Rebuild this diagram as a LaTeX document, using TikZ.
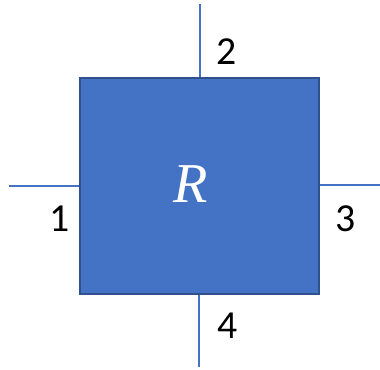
\documentclass[tikz,border=0pt]{standalone}
\usepackage{fontspec}
\setmainfont{Carlito}
\newfontfamily\rfont{Liberation Serif}
\usetikzlibrary{positioning}
\definecolor{boxblue}{HTML}{4472C4}
\definecolor{boxedge}{HTML}{2F528F}

\begin{document}
\begin{tikzpicture}[x=0.01cm,y=-0.01cm,
  port/.style={draw=boxblue, line width=0.4pt},
  num/.style={font=\fontsize{11.3}{13}\selectfont, inner sep=0pt}]
\useasboundingbox (0,0) rectangle (380,369);
\node[draw=boxedge, fill=boxblue, line width=0.6pt, minimum width=2.39cm, minimum height=2.16cm, inner sep=0pt] (box) at (199.5,186) {};
\node[text=white, font=\rfont\itshape\fontsize{16}{18}\selectfont, inner sep=0pt] (lab) at (191,184) {R};
\coordinate (top) at (200,4);
\coordinate (bot) at (199,367);
\coordinate (lft) at (9,186);
\coordinate (rgt) at (380,185);
\draw[port] (top) -- (top |- box.north);
\draw[port] (bot) -- (bot |- box.south);
\draw[port] (lft) -- (lft -| box.west);
\draw[port] (rgt) -- (rgt -| box.east);
\node[num] (n2) at (227,52) {2};
\node[num] (n1) at (60,219) {1};
\node[num] (n3) at (346,219) {3};
\node[num] (n4) at (228,326) {4};
\end{tikzpicture}
\end{document}
